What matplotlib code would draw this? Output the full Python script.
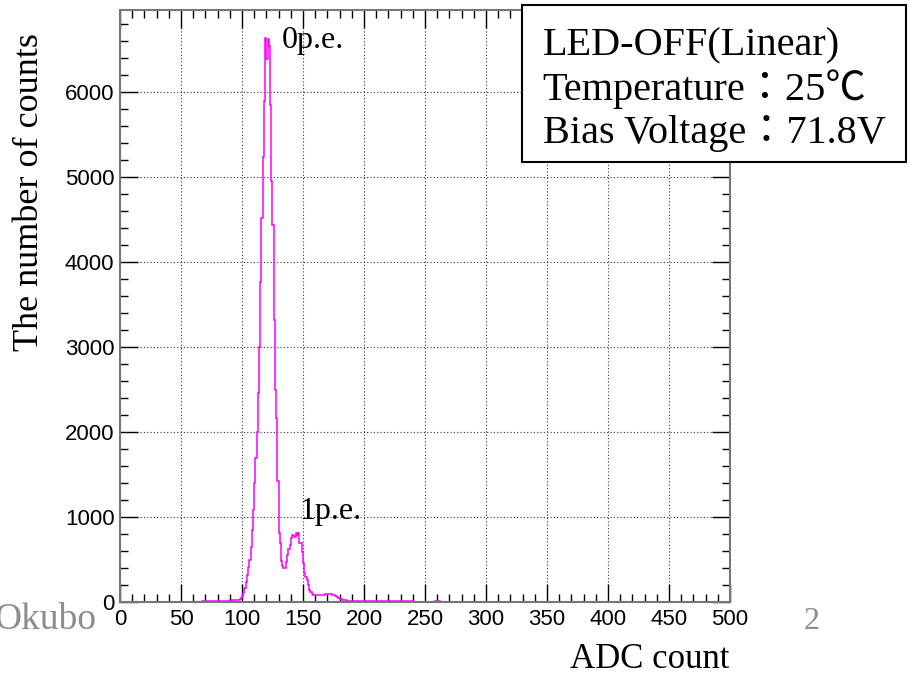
import matplotlib
matplotlib.use('Agg')
import matplotlib.pyplot as plt
from matplotlib.patches import Rectangle
from matplotlib.ticker import MultipleLocator

# ADC spectrum, LED off, 1 ADC count per bin, first bin starts at 67
first_bin = 67
counts = [
    # 67 - 96
    14, 12, 15, 13, 14, 12, 15, 13, 14, 15, 13, 14, 16, 14, 15, 13, 16, 15, 14, 16,
    15, 17, 16, 18, 17, 18, 19, 18, 20, 22,
    # 97 - 118 (rising edge of 0p.e.)
    26, 32, 45, 70, 110, 165, 240, 320, 410, 500, 650, 850, 1080, 1400,
    1700, 2000, 2460, 3000, 3770, 4520, 5240, 5890,
    # 119 - 135 (0p.e. top and falling edge)
    6630, 6390, 6620, 6540, 5850, 4950, 4440, 3320, 2490, 2170, 1420,
    810, 700, 480, 420, 400, 400,
    # 136 - 157 (1p.e.)
    470, 550, 620, 670, 750, 790, 790, 770, 810, 790, 810, 700, 690,
    590, 460, 340, 300, 260, 200, 140, 120, 100,
    # 158 - 189 (tail)
    88, 84, 82, 80, 84, 82, 86, 84, 88, 86, 90, 92, 94, 92, 95, 90,
    85, 80, 74, 66, 58, 47, 40, 34, 28, 24, 20, 18, 17, 16, 15, 15,
    # 190 - 239
    16, 15, 16, 14, 15, 14, 13, 15, 14, 13, 14, 13, 15, 14, 13, 15, 13, 14, 12, 13,
    13, 12, 14, 13, 12, 14, 12, 12, 13, 12, 12, 13, 12, 14, 11, 12, 13, 12, 11, 12,
    12, 11, 12, 12, 11, 12, 11, 12, 11, 12,
    # 240 - 257
    0, 0, 0, 0, 0, 0, 0, 0, 0, 0, 0, 0, 0, 0, 0, 0, 0, 0,
    # 258 - 261
    12, 12, 12, 12,
]
edges = list(range(first_bin, first_bin + len(counts) + 1))

x_range = (0, 500)
y_range = (0, 6965)
x_label = 'ADC count'
y_label = 'The number of counts'
box_lines = ['LED-OFF(Linear)', 'Temperature\uff1a25\u2103', 'Bias Voltage\uff1a71.8V']
peak_labels = [('0p.e.', 132.8, 6610), ('1p.e.', 146.7, 1060)]

serif = ['Liberation Serif', 'Noto Sans CJK JP', 'DejaVu Sans']
plt.rcParams['font.family'] = ['Liberation Sans', 'DejaVu Sans']

fig = plt.figure(figsize=(9.09, 6.79), dpi=100)
ax = fig.add_axes([0.132, 0.1134, 0.671, 0.8719])

ax.stairs(counts, edges, color='#ff00ff', lw=1.1, zorder=3)

ax.set_xlim(*x_range)
ax.set_ylim(*y_range)
ax.xaxis.set_major_locator(MultipleLocator(50))
ax.xaxis.set_minor_locator(MultipleLocator(10))
ax.yaxis.set_major_locator(MultipleLocator(1000))
ax.yaxis.set_minor_locator(MultipleLocator(200))
ax.tick_params(which='both', direction='in', top=True, right=True,
               labelsize=16, color='black', width=1)
ax.tick_params(which='major', length=13)
ax.tick_params(which='minor', length=6)
ax.tick_params(axis='x', pad=5)
ax.tick_params(axis='y', pad=4)
ax.grid(True, which='major', color='#333333', linestyle=(0, (1, 2)), lw=0.8)
for sp in ax.spines.values():
    sp.set_color('#777777')
    sp.set_linewidth(1.5)
    sp.set_zorder(4)

for txt, x, y in peak_labels:
    ax.text(x, y, txt, family=serif, fontsize=23, ha='left', va='center')

fig.text(30 / 909, 0.717, y_label, family=serif, fontsize=26,
         rotation=90, ha='center', va='center')
fig.text(730 / 909, 0.028, x_label, family=serif, fontsize=25,
         ha='right', va='center')

# footer of the slide
fig.text(-6 / 909, 0.087, 'Okubo', family=serif, fontsize=27,
         color='#8c8c8c', ha='left', va='center')
fig.text(812 / 909, 0.085, '2', family=serif, fontsize=23,
         color='#8c8c8c', ha='center', va='center')

# info box
fig.patches.append(Rectangle((0.574, 0.7614), 0.4226, 0.2312,
                             transform=fig.transFigure, facecolor='white',
                             edgecolor='black', lw=1.5, zorder=10))
for txt, yb in zip(box_lines, [0.919, 0.853, 0.789]):
    fig.text(0.597, yb, txt, family=serif, fontsize=29,
             ha='left', va='baseline', zorder=11)

fig.savefig('out.png', dpi=100)
